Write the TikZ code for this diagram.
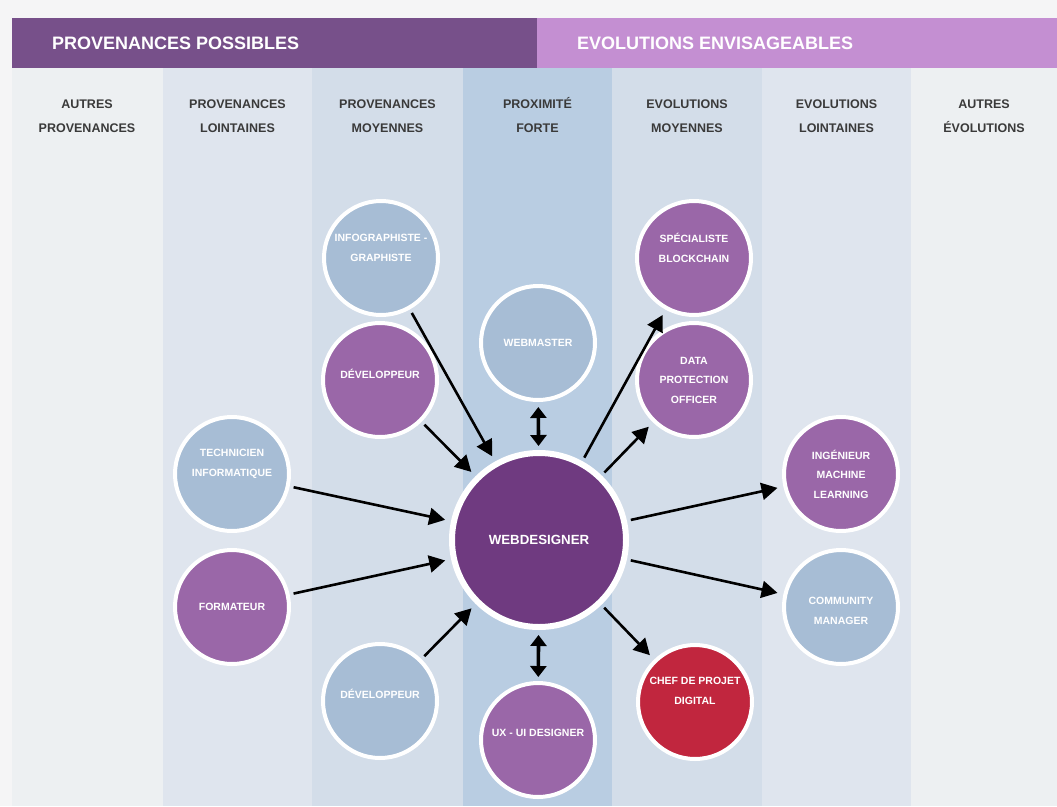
\documentclass[tikz,border=0pt]{standalone}
\usepackage{fontspec}
\setmainfont{Liberation Sans}
\usetikzlibrary{arrows.meta}
\definecolor{bg}{HTML}{F5F5F6}
\definecolor{hdark}{HTML}{77508A}
\definecolor{hlight}{HTML}{C48FD2}
\definecolor{cola}{HTML}{EDF0F2}
\definecolor{colb}{HTML}{DFE5EE}
\definecolor{colc}{HTML}{D3DDE9}
\definecolor{cold}{HTML}{B9CDE2}
\definecolor{cpurple}{HTML}{9A67A8}
\definecolor{cblue}{HTML}{A7BDD5}
\definecolor{cred}{HTML}{C1263E}
\definecolor{ccenter}{HTML}{6F3A80}
\definecolor{htext}{HTML}{3A3A3A}
\tikzset{
  job/.style={circle, draw=white, line width=4pt, minimum size=114pt, inner sep=0pt},
  pjob/.style={job, fill=cpurple},
  bjob/.style={job, fill=cblue},
  rjob/.style={job, fill=cred},
  ctext/.style={text=white, font=\bfseries\fontsize{10.5}{19.5}\selectfont, align=center, inner sep=0pt},
  colhead/.style={text=htext, font=\bfseries\fontsize{12.5}{24}\selectfont, align=center, inner sep=0pt},
  bartext/.style={text=white, font=\bfseries\fontsize{18}{20}\selectfont, anchor=west, inner sep=0pt},
  link/.style={line width=2.6pt, -{Triangle[length=16pt,width=17pt]}, shorten <=4pt, shorten >=6pt},
  dlink/.style={line width=3.6pt, {Triangle[length=11pt,width=16pt]}-{Triangle[length=11pt,width=16pt]}, shorten <=5pt, shorten >=4pt}
}
\begin{document}
\begin{tikzpicture}[x=1pt,y=-1pt]
\useasboundingbox (0,0) rectangle (1057,806);
\fill[bg] (0,0) rectangle (1057,806);
% columns
\fill[cola] (12,68) rectangle (163,806);
\fill[colb] (163,68) rectangle (312,806);
\fill[colc] (312,68) rectangle (463,806);
\fill[cold] (463,68) rectangle (612,806);
\fill[colc] (612,68) rectangle (762,806);
\fill[colb] (762,68) rectangle (911,806);
\fill[cola] (911,68) rectangle (1057,806);
% header bar
\fill[hdark] (12,18) rectangle (537,68);
\fill[hlight] (537,18) rectangle (1057,68);
\node[bartext] (hp) at (52,43) {PROVENANCES POSSIBLES};
\node[bartext] (he) at (577,43) {EVOLUTIONS ENVISAGEABLES};
% column headers
\node[colhead] (c1) at (87,115) {\vphantom{É}AUTRES\\PROVENANCES};
\node[colhead] (c2) at (237.5,115) {\vphantom{É}PROVENANCES\\LOINTAINES};
\node[colhead] (c3) at (387.5,115) {\vphantom{É}PROVENANCES\\MOYENNES};
\node[colhead] (c4) at (537.5,115) {\vphantom{É}PROXIMITÉ\\FORTE};
\node[colhead] (c5) at (687,115) {\vphantom{É}EVOLUTIONS\\MOYENNES};
\node[colhead] (c6) at (836.5,115) {\vphantom{É}EVOLUTIONS\\LOINTAINES};
\node[colhead] (c7) at (984,115) {\vphantom{É}AUTRES\\ÉVOLUTIONS};
% circles
\node[circle, draw=white, line width=6pt, minimum size=174pt, inner sep=0pt, fill=ccenter,
  label={[text=white, font=\bfseries\fontsize{13.3}{16}\selectfont, inner sep=0pt]center:WEBDESIGNER}] (wd) at (539,540) {};
\node[bjob, label={[ctext,yshift=10pt]center:{INFOGRAPHISTE -\\GRAPHISTE}}] (info) at (381,258) {};
\node[pjob, label={[ctext,yshift=6pt]center:DÉVELOPPEUR}] (dev1) at (380,380) {};
\node[bjob, label={[ctext]center:WEBMASTER}] (wm) at (538,343) {};
\node[pjob, label={[ctext,yshift=10pt]center:{SPÉCIALISTE\\BLOCKCHAIN}}] (bc) at (694,258) {};
\node[pjob, label={[ctext]center:{DATA\\PROTECTION\\OFFICER}}] (dpo) at (694,380) {};
\node[bjob, label={[ctext,yshift=10pt]center:{TECHNICIEN\\INFORMATIQUE}}] (tech) at (232,474) {};
\node[pjob, label={[ctext]center:FORMATEUR}] (form) at (232,607) {};
\node[bjob, label={[ctext,yshift=7pt]center:DÉVELOPPEUR}] (dev2) at (380,701) {};
\node[pjob, label={[ctext,yshift=7pt]center:UX - UI DESIGNER}] (ux) at (538,740) {};
\node[rjob, label={[ctext,yshift=11pt]center:{CHEF DE PROJET\\DIGITAL}}] (chef) at (695,702) {};
\node[pjob, label={[ctext]center:{INGÉNIEUR\\MACHINE\\LEARNING}}] (ml) at (841,474) {};
\node[bjob, label={[ctext,yshift=-4pt]center:{COMMUNITY\\MANAGER}}] (cm) at (841,607) {};
% connectors
\draw[link] (info) -- (wd);
\draw[link] (dev1) -- (wd);
\draw[link] (tech) -- (wd);
\draw[link] (form) -- (wd);
\draw[link] (dev2) -- (wd);
\draw[dlink] (wm) -- (wd);
\draw[dlink] (wd) -- (ux);
\draw[link] (wd) -- (bc);
\draw[link] (wd) -- (dpo);
\draw[link] (wd) -- (ml);
\draw[link] (wd) -- (cm);
\draw[link] (wd) -- (chef);
\end{tikzpicture}
\end{document}
